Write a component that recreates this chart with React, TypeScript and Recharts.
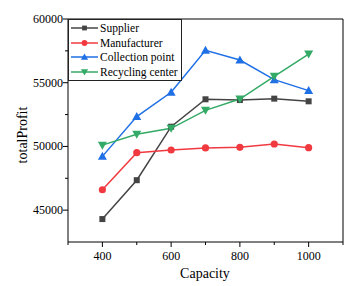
import React from 'react';
import { LineChart, Line, XAxis, YAxis, Legend, ReferenceLine } from 'recharts';

const capacity = [400, 500, 600, 700, 800, 900, 1000];
const supplier = [44300, 47350, 51550, 53700, 53640, 53750, 53540];
const manufacturer = [46600, 49510, 49720, 49880, 49930, 50190, 49900];
const collectionPoint = [49220, 52340, 54250, 57540, 56780, 55240, 54380];
const recyclingCenter = [50100, 50950, 51420, 52830, 53720, 55500, 57250];

const xTicks = [300, 400, 500, 600, 700, 800, 900, 1000, 1100];
const xLabels = [400, 600, 800, 1000];
const yTicks = [45000, 47500, 50000, 52500, 55000, 57500, 60000];
const yLabels = [45000, 50000, 55000, 60000];

const data = capacity.map((c, i) => ({
  capacity: c,
  supplier: supplier[i],
  manufacturer: manufacturer[i],
  collection: collectionPoint[i],
  recycling: recyclingCenter[i],
}));

const FONT = '"Liberation Serif", "Times New Roman", serif';

const series = [
  { key: 'supplier', name: 'Supplier', color: '#444444', shape: 'square' },
  { key: 'manufacturer', name: 'Manufacturer', color: '#f03a40', shape: 'circle' },
  { key: 'collection', name: 'Collection point', color: '#1f6fe5', shape: 'up' },
  { key: 'recycling', name: 'Recycling center', color: '#33aa66', shape: 'down' },
];

const Marker = ({ cx, cy, shape, color, s = 1 }: any) => {
  if (cx == null || cy == null) return null;
  if (shape === 'square') return <rect x={cx - 3 * s} y={cy - 3 * s} width={6 * s} height={6 * s} fill={color} />;
  if (shape === 'circle') return <circle cx={cx} cy={cy} r={3.6 * s} fill={color} />;
  if (shape === 'up')
    return (
      <polygon
        points={`${cx},${cy - 4.5 * s} ${cx - 4.5 * s},${cy + 3.5 * s} ${cx + 4.5 * s},${cy + 3.5 * s}`}
        fill={color}
      />
    );
  return (
    <polygon
      points={`${cx},${cy + 4.5 * s} ${cx - 4.5 * s},${cy - 3.5 * s} ${cx + 4.5 * s},${cy - 3.5 * s}`}
      fill={color}
    />
  );
};

const XTick = ({ x, y, payload }: any) => {
  const major = xLabels.includes(payload.value);
  return (
    <g>
      <line x1={x} x2={x} y1={y} y2={y + (major ? 5 : 3)} stroke="#000" strokeWidth={1} />
      {major && (
        <text x={x} y={y + 18} textAnchor="middle" fontSize={12} fontFamily={FONT} fill="#000">
          {payload.value}
        </text>
      )}
    </g>
  );
};

const YTick = ({ x, y, payload }: any) => {
  const major = yLabels.includes(payload.value);
  return (
    <g>
      <line x1={x - (major ? 5 : 3)} x2={x} y1={y} y2={y} stroke="#000" strokeWidth={1} />
      {major && (
        <text x={x - 5} y={y + 4} textAnchor="end" fontSize={12} fontFamily={FONT} fill="#000">
          {payload.value}
        </text>
      )}
    </g>
  );
};

const LegendBox = () => (
  <div
    style={{
      border: '1px solid #222',
      background: '#fff',
      padding: '1px 3px 1px 2px',
      fontFamily: FONT,
      fontSize: 11.5,
      lineHeight: '14.5px',
    }}
  >
    {series.map((s) => (
      <div key={s.key} style={{ display: 'flex', alignItems: 'center' }}>
        <svg width={27} height={10} style={{ marginRight: 2 }}>
          <line x1={0} x2={27} y1={5} y2={5} stroke={s.color} strokeWidth={1.5} />
          <Marker cx={13.5} cy={5} shape={s.shape} color={s.color} s={0.8} />
        </svg>
        <span>{s.name}</span>
      </div>
    ))}
  </div>
);

export default function App() {
  return (
    <div style={{ position: 'absolute', top: 0, left: 0, width: 362, height: 286, background: '#fff' }}>
      <LineChart width={362} height={286} data={data} margin={{ top: 19, right: 19, bottom: 0, left: 0 }}>
        <XAxis
          dataKey="capacity"
          type="number"
          domain={[300, 1100]}
          ticks={xTicks}
          interval={0}
          tickSize={0}
          tickMargin={0}
          height={44}
          stroke="#000"
          tick={<XTick />}
          label={{
            content: () => (
              <text x={205} y={278} textAnchor="middle" fontSize={14} fontFamily={FONT} fill="#000">
                Capacity
              </text>
            ),
          }}
        />
        <YAxis
          type="number"
          domain={[42500, 60000]}
          ticks={yTicks}
          interval={0}
          tickSize={0}
          tickMargin={0}
          width={68}
          stroke="#000"
          tick={<YTick />}
          label={{
            content: () => (
              <text
                x={22}
                y={135}
                transform="rotate(-90 22 135)"
                textAnchor="middle"
                dominantBaseline="central"
                fontSize={14}
                fontFamily={FONT}
                fill="#000"
              >
                totalProfit
              </text>
            ),
          }}
        />
        <ReferenceLine y={60000} stroke="#000" strokeWidth={1} />
        <ReferenceLine x={1100} stroke="#000" strokeWidth={1} />
        {series.map((s) => (
          <Line
            key={s.key}
            dataKey={s.key}
            name={s.name}
            stroke={s.color}
            strokeWidth={1.5}
            isAnimationActive={false}
            dot={(p: any) => <Marker key={`${s.key}-${p.index}`} cx={p.cx} cy={p.cy} shape={s.shape} color={s.color} />}
          />
        ))}
        <Legend
          content={<LegendBox />}
          layout="vertical"
          verticalAlign="middle"
          align="center"
          wrapperStyle={{ position: 'absolute', top: 19, left: 68, width: 'auto', height: 'auto' }}
        />
      </LineChart>
    </div>
  );
}
